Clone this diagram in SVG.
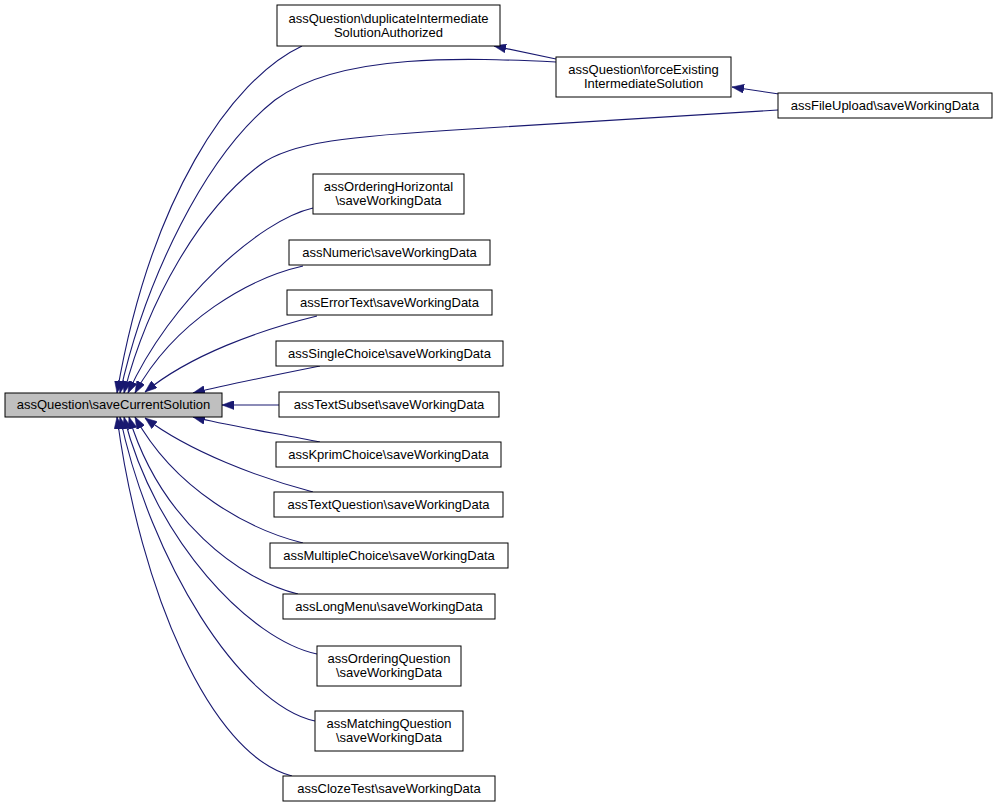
<svg xmlns="http://www.w3.org/2000/svg" width="997" height="809" viewBox="0 0 997 809">
<style>
.n rect{fill:#ffffff;stroke:#000000;stroke-width:1}
.m rect{fill:#bfbfbf;stroke:#000000;stroke-width:1}
text{font-family:"Liberation Sans",Arial,Helvetica,sans-serif;font-size:13px;fill:#000000;text-anchor:middle}
#edges path{fill:none;stroke:#191970;stroke-width:1.1;marker-end:url(#ah)}
</style>
<defs>
<marker id="ah" markerUnits="userSpaceOnUse" viewBox="0 0 12 9" refX="12" refY="4.5" markerWidth="12" markerHeight="9" orient="auto">
<polygon points="0,0 12,4.5 0,9" fill="#191970" stroke="#191970" stroke-width="0.5"/>
</marker>
</defs>
<rect x="0" y="0" width="997" height="809" fill="#ffffff"/>
<g id="edges">
<path d="M302,46 C230,80 150,200 117,393"/>
<path d="M556,62 C470,58 340,52 275,100 C205,155 145,280 120,393"/>
<path d="M778,110 L470,129 C350,136 290,142 260,165 C200,210 148,300 124,393"/>
<path d="M556,59 L494,46"/>
<path d="M779,94 L732,87"/>
<path d="M313,208 C260,220 170,300 128,393"/>
<path d="M303,266 C250,278 175,320 135,393"/>
<path d="M317,316 C260,330 190,355 145,392"/>
<path d="M320,366 C280,374 230,384 193,393"/>
<path d="M279,405 L222,405"/>
<path d="M320,442 C280,434 230,426 193,417"/>
<path d="M313,492 C260,478 190,452 145,418"/>
<path d="M303,543 C250,530 175,490 135,417"/>
<path d="M298,594 C240,580 160,520 129,417"/>
<path d="M317,654 C250,640 155,540 124,417"/>
<path d="M315,721 C240,705 150,560 120,417"/>
<path d="M292,776 C210,755 140,590 117,417"/>
</g>
<g id="node-main" class="m"><rect x="5" y="393" width="217" height="24"/><text x="113.5" y="409">assQuestion\saveCurrentSolution</text></g>
<g id="node-duplicate" class="n"><rect x="277" y="5" width="223" height="41"/><text x="388.5" y="23">assQuestion\duplicateIntermediate</text><text x="388.5" y="37">SolutionAuthorized</text></g>
<g id="node-force" class="n"><rect x="556" y="57" width="175" height="40"/><text x="643.5" y="74">assQuestion\forceExisting</text><text x="643.5" y="88">IntermediateSolution</text></g>
<g id="node-fileupload" class="n"><rect x="778" y="93" width="214" height="25"/><text x="885" y="109.5">assFileUpload\saveWorkingData</text></g>
<g id="node-orderinghorizontal" class="n"><rect x="313" y="174" width="151" height="40"/><text x="388.5" y="191">assOrderingHorizontal</text><text x="388.5" y="205">\saveWorkingData</text></g>
<g id="node-numeric" class="n"><rect x="289" y="240" width="201" height="25"/><text x="389.5" y="257">assNumeric\saveWorkingData</text></g>
<g id="node-errortext" class="n"><rect x="287" y="290" width="205" height="25"/><text x="389.5" y="307">assErrorText\saveWorkingData</text></g>
<g id="node-singlechoice" class="n"><rect x="276" y="341" width="227" height="25"/><text x="389.5" y="358">assSingleChoice\saveWorkingData</text></g>
<g id="node-textsubset" class="n"><rect x="279" y="392" width="220" height="25"/><text x="389" y="409">assTextSubset\saveWorkingData</text></g>
<g id="node-kprim" class="n"><rect x="276" y="442" width="225" height="25"/><text x="388.5" y="459">assKprimChoice\saveWorkingData</text></g>
<g id="node-textquestion" class="n"><rect x="274" y="492" width="229" height="25"/><text x="388.5" y="509">assTextQuestion\saveWorkingData</text></g>
<g id="node-multiplechoice" class="n"><rect x="270" y="543" width="238" height="25"/><text x="389" y="560">assMultipleChoice\saveWorkingData</text></g>
<g id="node-longmenu" class="n"><rect x="283" y="594" width="212" height="25"/><text x="389" y="611">assLongMenu\saveWorkingData</text></g>
<g id="node-orderingquestion" class="n"><rect x="317" y="646" width="144" height="40"/><text x="389" y="663">assOrderingQuestion</text><text x="389" y="677">\saveWorkingData</text></g>
<g id="node-matchingquestion" class="n"><rect x="315" y="711" width="148" height="40"/><text x="389" y="728">assMatchingQuestion</text><text x="389" y="742">\saveWorkingData</text></g>
<g id="node-clozetest" class="n"><rect x="283" y="776" width="212" height="25"/><text x="389" y="793">assClozeTest\saveWorkingData</text></g>
</svg>
